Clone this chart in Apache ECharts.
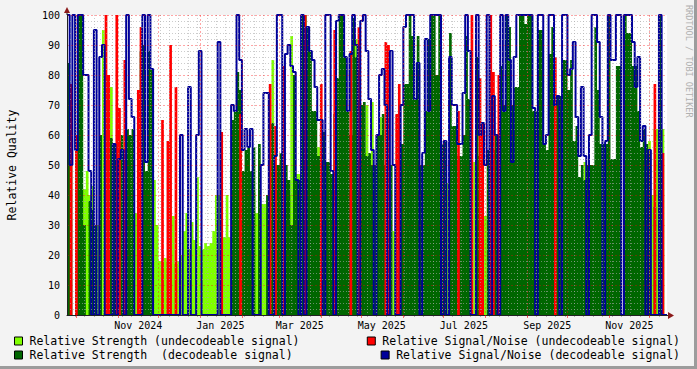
<!DOCTYPE html>
<html>
<head>
<meta charset="utf-8">
<script src="https://cdn.jsdelivr.net/npm/echarts@6/dist/echarts.min.js"></script>
<style>
html,body{margin:0;padding:0;background:#F3F3F3;}
#c{width:697px;height:369px;}
</style>
</head>
<body>
<div id="c"></div>
<script>
// ---- data: one value per 2-day step starting 2024-09-24 ----
const START_YEAR = 2024, START_MONTH = 8, START_DAY = 24;
const BIN_DAYS = 2;
const TICK_LABELS = ['Nov 2024','Jan 2025','Mar 2025','May 2025','Jul 2025','Sep 2025','Nov 2025'];
const Y_TICKS = [0,10,20,30,40,50,60,70,80,90,100];

// Relative Strength (undecodeable signal)
const strengthUndecodeable = [
 0,0,0,45,0,78,42,48,40,43,
 30,30,45,95,0,40,76,40,0,40,
 48,30,40,50,55,34,34,40,0,47,
 47,45,45,30,18,18,19,18,17,33,
 17,18,20,28,34,22,31,25,46,23,
 22,24,23,24,28,40,40,38,26,40,
 26,30,0,0,0,22,0,0,41,41,
 34,46,37,37,34,34,85,40,0,0,
 34,40,40,93,75,47,47,0,100,0,
 0,0,0,56,0,0,0,0,0,0,
 0,0,0,0,50,0,0,92,0,0,
 54,70,0,71,0,0,66,0,0,0,
 0,28,28,20,0,0,0,0,0,72,
 0,0,0,0,0,0,0,0,0,0,
 44,44,0,63,0,0,0,0,0,0,
 0,51,0,0,0,33,0,0,0,0,
 0,0,0,0,0,58,0,0,0,0,
 0,0,0,68,0,0,0,0,33,87,
 0,0,0,0,0,0,0,0,0,0,
 0,0,51,0,0,0,0,0,0,0,
 0,0,51,0,0,0,0,0,0,0,
 0,0,0,33,56,0,58,40,62,62,
 0,62,0
];
// Relative Signal/Noise (undecodeable signal)
const snrUndecodeable = [
 0,77,0,60,0,0,0,0,0,0,
 0,0,0,0,100,80,0,0,100,69,
 0,85,0,0,0,0,75,96,0,0,
 0,0,0,0,0,65,0,58,90,0,
 76,0,0,0,0,0,0,0,0,0,
 0,0,0,0,0,0,0,61,0,0,
 0,0,0,0,67,0,0,0,0,0,
 0,0,0,0,0,77,0,63,0,0,
 83,0,0,0,0,0,0,0,100,0,
 0,0,0,0,77,0,0,0,0,95,
 0,0,0,0,0,88,0,0,96,0,
 0,0,0,0,0,0,0,0,91,90,
 0,0,67,77,0,0,0,0,0,0,
 0,0,0,0,0,0,0,0,0,0,
 0,0,0,0,0,68,0,0,0,0,
 100,0,0,79,64,0,0,100,81,0,
 80,0,0,0,0,0,0,0,0,0,
 0,0,0,0,0,0,0,0,0,0,
 0,86,0,0,0,0,0,0,0,0,
 0,0,0,0,0,0,0,0,0,0,
 0,0,0,0,0,0,0,0,0,0,
 0,0,0,0,0,0,0,0,77,0,
 0,54,0
];
// Relative Strength (decodeable signal)
const strengthDecodeable = [
 84,73,0,55,100,100,30,0,38,35,
 30,0,60,0,0,40,59,57,0,58,
 60,0,62,60,62,0,0,88,90,48,
 88,82,0,0,0,0,0,0,0,0,
 0,0,0,0,0,0,0,0,0,0,
 0,0,0,0,0,0,0,0,0,0,
 0,65,68,81,75,48,55,56,48,56,
 0,57,0,0,40,64,64,50,50,54,
 54,50,45,30,80,45,45,100,100,96,
 88,68,68,53,61,61,51,51,47,67,
 79,100,100,86,68,60,99,86,63,70,
 71,53,54,50,50,60,60,67,50,50,
 50,0,0,0,57,77,77,100,93,72,
 93,50,50,68,92,100,100,80,100,57,
 58,0,94,63,63,53,53,60,93,72,
 0,0,86,53,53,0,55,55,55,60,
 60,83,70,100,96,70,76,76,100,100,
 97,100,100,68,68,95,95,57,55,87,
 96,73,73,73,85,85,75,85,58,63,
 46,50,45,50,50,50,96,75,57,57,
 57,100,52,52,83,83,0,100,94,94,
 83,83,68,56,62,57,54,0,36,0,
 100,0,0
];
// Relative Signal/Noise (decodeable signal)
const snrDecodeable = [
 100,50,100,55,100,100,80,80,48,0,
 95,0,86,90,0,0,0,57,0,52,
 55,0,100,72,66,0,0,0,100,51,
 100,82,0,0,0,0,0,0,0,0,
 0,0,60,0,0,76,0,0,60,88,
 0,0,0,0,0,0,91,0,0,0,
 0,70,68,100,85,55,62,56,62,0,
 0,0,50,74,74,0,0,53,100,100,
 0,87,90,83,81,45,0,100,0,96,
 88,85,76,65,65,0,100,100,48,0,
 98,100,100,86,68,87,100,90,0,98,
 100,88,72,55,0,60,80,82,70,0,
 88,50,0,0,70,96,100,100,100,72,
 84,0,54,92,68,100,100,100,100,0,
 58,0,86,70,70,57,57,74,100,88,
 0,0,100,60,64,50,100,0,73,60,
 0,100,68,100,85,51,86,100,100,100,
 100,100,100,69,0,100,100,57,60,100,
 100,70,73,0,100,100,80,82,91,66,
 53,76,53,0,60,100,100,91,66,0,
 58,100,85,85,100,100,0,100,100,100,
 91,76,86,58,63,0,55,0,0,0,
 100,0,0
];

const NAMES = [
 'Relative Strength (undecodeable signal)',
 'Relative Signal/Noise (undecodeable signal)',
 'Relative Strength  (decodeable signal)',
 'Relative Signal/Noise (decodeable signal)'
];
const COLORS = ['#80FF00', '#FF0000', '#006600', '#000099'];

// ---- build ----
const MONTHS = ['Jan','Feb','Mar','Apr','May','Jun','Jul','Aug','Sep','Oct','Nov','Dec'];
const TOTAL_DAYS = strengthUndecodeable.length * BIN_DAYS;
const days = [];
for (let k = 0; k <= TOTAL_DAYS; k++) {
  const d = new Date(Date.UTC(START_YEAR, START_MONTH, START_DAY + k));
  days.push(d.toISOString().slice(0,10));
}
function parts(s){ return {y:+s.slice(0,4), m:+s.slice(5,7)-1, d:+s.slice(8,10)}; }
function monthLabel(s){ const p = parts(s); return MONTHS[p.m] + ' ' + p.y; }
function isMonthStart(i, s){ return parts(s).d === 1; }
function isMonday(i, s){ const p = parts(s); return new Date(Date.UTC(p.y,p.m,p.d)).getUTCDay() === 1; }
function isLabelDay(i, s){ return parts(s).d === 16 && TICK_LABELS.indexOf(monthLabel(s)) >= 0; }

function toSeriesData(arr){
  const out = arr.map((v,i)=>[i*BIN_DAYS, v]);
  out.push([arr.length*BIN_DAYS, arr[arr.length-1]]);
  return out;
}

const MONO = 'DejaVu Sans Mono';
const chart = echarts.init(document.getElementById('c'), null, {renderer:'svg', width:697, height:369});

const legendBase = {
  orient:'horizontal', itemWidth:8, itemHeight:8, icon:'rect', itemGap:0, padding:0,
  selectedMode:false,
  itemStyle:{borderColor:'#000', borderWidth:1},
  textStyle:{fontFamily:MONO, fontSize:11.5, color:'#000', padding:[0,0,0,2]}
};

const option = {
  animation:false,
  backgroundColor:'#F3F3F3',
  grid:{left:67, top:15, width:600, height:300, show:true, backgroundColor:'#FFFFFF', borderWidth:0, containLabel:false, outerBoundsMode:'none'},
  legend:[
    Object.assign({}, legendBase, {data:[NAMES[0]], left:14, top:335}),
    Object.assign({}, legendBase, {data:[NAMES[2]], left:14, top:349}),
    Object.assign({}, legendBase, {data:[NAMES[1]], right:17, top:335}),
    Object.assign({}, legendBase, {data:[NAMES[3]], right:17, top:349})
  ],
  xAxis:[
    {type:'value', min:0, max:TOTAL_DAYS, show:false},
    {type:'category', data:days, boundaryGap:false, position:'bottom', z:6,
     axisLine:{show:true, lineStyle:{color:'#222', width:1}},
     axisTick:{show:true, interval:isMonthStart, length:3, lineStyle:{color:'rgba(255,0,0,0.55)'}},
     axisLabel:{show:true, interval:isLabelDay, formatter:monthLabel, fontFamily:MONO, fontSize:10, color:'#000', margin:5},
     splitLine:{show:true, interval:isMonthStart, lineStyle:{color:'rgba(255,0,0,0.35)', type:[2,2], width:1}}
    },
    {type:'category', data:days, boundaryGap:false, position:'bottom', z:5,
     axisLine:{show:false},
     axisTick:{show:true, interval:isMonday, length:2, lineStyle:{color:'rgba(150,150,150,0.7)'}},
     axisLabel:{show:false},
     splitLine:{show:true, interval:isMonday, lineStyle:{color:'rgba(170,170,170,0.6)', type:[1,2], width:1}}
    }
  ],
  yAxis:{type:'value', min:Y_TICKS[0], max:Y_TICKS[Y_TICKS.length-1], interval:10, z:6,
    axisLine:{show:true, lineStyle:{color:'#222', width:1}},
    axisTick:{show:false},
    axisLabel:{fontFamily:MONO, fontSize:10, color:'#000', margin:7},
    splitLine:{show:true, lineStyle:{color:'rgba(255,0,0,0.35)', type:[2,2], width:1}},
    minorTick:{show:false, splitNumber:5},
    minorSplitLine:{show:true, lineStyle:{color:'rgba(170,170,170,0.6)', type:[1,2], width:1}},
    name:'Relative Quality', nameLocation:'middle', nameGap:49, nameRotate:90,
    nameTextStyle:{fontFamily:MONO, fontSize:11.5, color:'#000'}
  },
  series:[
    {name:NAMES[0], type:'line', step:'end', xAxisIndex:0, data:toSeriesData(strengthUndecodeable),
     color:COLORS[0], showSymbol:false, symbol:'none', lineStyle:{width:0}, areaStyle:{color:COLORS[0], opacity:1}, z:1},
    {name:NAMES[2], type:'line', step:'end', xAxisIndex:0, data:toSeriesData(strengthDecodeable),
     color:COLORS[2], showSymbol:false, symbol:'none', lineStyle:{width:0}, areaStyle:{color:COLORS[2], opacity:1}, z:2},
    {name:NAMES[1], type:'line', step:'end', xAxisIndex:0, data:toSeriesData(snrUndecodeable),
     color:COLORS[1], showSymbol:false, symbol:'none', lineStyle:{width:0}, areaStyle:{color:COLORS[1], opacity:1}, z:3},
    {name:NAMES[3], type:'line', step:'end', xAxisIndex:0, data:toSeriesData(snrDecodeable),
     color:COLORS[3], showSymbol:false, symbol:'none', lineStyle:{width:2, color:COLORS[3]}, z:4}
  ],
  graphic:[
    {type:'polygon', shape:{points:[[64,13],[70,13],[67,7]]}, style:{fill:'#8B1A1A'}, z:10},
    {type:'line', shape:{x1:67, y1:15, x2:67, y2:13}, style:{stroke:'#222', lineWidth:1}, z:10},
    {type:'polygon', shape:{points:[[668,312],[668,319],[674,315.5]]}, style:{fill:'#8B1A1A'}, z:10},
    {type:'line', shape:{x1:667, y1:315.5, x2:668, y2:315.5}, style:{stroke:'#222', lineWidth:1}, z:10},
    {type:'text', x:688.5, y:5, rotation:-Math.PI/2,
     style:{text:'RRDTOOL / TOBI OETIKER', fill:'#B0B0B0', fontFamily:MONO, fontSize:8.5, align:'left', verticalAlign:'middle'}, z:10},
    {type:'rect', shape:{x:694, y:0, width:3, height:369}, style:{fill:'#9C9C9C'}, z:10},
    {type:'rect', shape:{x:0, y:366, width:697, height:3}, style:{fill:'#9C9C9C'}, z:10}
  ]
};
chart.setOption(option);
</script>
</body>
</html>
